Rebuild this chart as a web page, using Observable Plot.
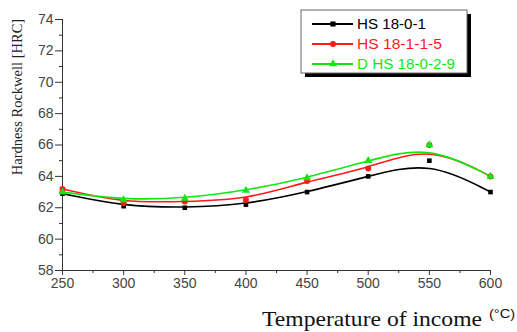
<!DOCTYPE html>
<html>
<head>
<meta charset="utf-8">
<script src="https://cdn.jsdelivr.net/npm/d3@7"></script>
<script src="https://cdn.jsdelivr.net/npm/@observablehq/plot@0.6"></script>
<style>
  html, body { margin: 0; padding: 0; background: #fff; }
  #chart svg { display: block; }
</style>
</head>
<body>
<div id="chart"></div>
<script>
const temps = [250, 300, 350, 400, 450, 500, 550, 600];
const hs1801 = [62.9, 62.1, 62.0, 62.2, 63.0, 64.0, 65.0, 63.0];
const hs18115 = [63.2, 62.3, 62.4, 62.5, 63.7, 64.5, 66.0, 64.0];
const dhs18029 = [63.0, 62.5, 62.6, 63.1, 63.9, 65.0, 66.0, 64.0];
const seriesNames = ["HS 18-0-1", "HS 18-1-1-5", "D HS 18-0-2-9"];
const seriesColors = ["#000000", "#ff1a1a", "#14e614"];
const seriesSymbols = ["square", "circle", "triangle"];
const yTicks = [58, 60, 62, 64, 66, 68, 70, 72, 74];
const yMinor = [59, 61, 63, 65, 67, 69, 71, 73];
const xMinor = [275, 325, 375, 425, 475, 525, 575];

const allSeries = [hs1801, hs18115, dhs18029];
const rows = [];
allSeries.forEach((vals, s) => vals.forEach((v, i) => rows.push({t: temps[i], h: v, s})));

const marks = [];
marks.push(Plot.axisY({ticks: yTicks, tickSize: 7, tickPadding: 2, stroke: "#333", fill: "#444", fontSize: 14, label: null}));
marks.push(Plot.axisY({ticks: yMinor, tickSize: 3, text: null, stroke: "#333", label: null}));
marks.push(Plot.axisX({ticks: temps, tickSize: 5, tickPadding: 3, stroke: "#333", fill: "#444", fontSize: 14, label: null}));
marks.push(Plot.axisX({ticks: xMinor, tickSize: 3, text: null, stroke: "#333", label: null}));
marks.push(Plot.ruleX([250], {stroke: "#333"}));
marks.push(Plot.ruleY([58], {stroke: "#333"}));
allSeries.forEach((vals, s) => {
  const d = rows.filter(r => r.s === s);
  marks.push(Plot.line(d, {x: "t", y: "h", curve: "basis", stroke: seriesColors[s], strokeWidth: 1.6}));
});
allSeries.forEach((vals, s) => {
  const d = rows.filter(r => r.s === s);
  marks.push(Plot.dot(d, {x: "t", y: "h", symbol: seriesSymbols[s], r: s === 0 ? 2.6 : 3, fill: seriesColors[s], stroke: "none"}));
});

const svg = Plot.plot({
  width: 517,
  height: 332,
  marginLeft: 62,
  marginRight: 27,
  marginTop: 19,
  marginBottom: 62,
  x: {domain: [250, 600], axis: null},
  y: {domain: [58, 74], axis: null},
  style: {fontFamily: "'Liberation Sans', Arial, sans-serif", fontSize: "14px", background: "#fff", overflow: "visible"},
  marks
});
document.getElementById("chart").appendChild(svg);

const g = d3.select(svg).append("g");
// Y label
g.append("text")
  .attr("transform", "translate(22,97) rotate(-90)")
  .attr("text-anchor", "middle")
  .attr("font-family", "'Liberation Serif', 'Times New Roman', serif")
  .attr("font-size", 14.5)
  .attr("fill", "#222")
  .text("Hardness Rockwell [HRC]");
// X label
g.append("text")
  .attr("x", 262).attr("y", 326)
  .attr("text-anchor", "start")
  .attr("font-family", "'Liberation Serif', 'Times New Roman', serif")
  .attr("font-size", 22)
  .attr("textLength", 220)
  .attr("lengthAdjust", "spacingAndGlyphs")
  .attr("fill", "#111")
  .text("Temperature of income");
g.append("text")
  .attr("x", 489).attr("y", 318)
  .attr("text-anchor", "start")
  .attr("font-family", "'Liberation Sans', Arial, sans-serif")
  .attr("font-size", 12)
  .attr("textLength", 26)
  .attr("lengthAdjust", "spacingAndGlyphs")
  .attr("fill", "#111")
  .text("(°C)");

// Legend
const lg = g.append("g");
lg.append("rect").attr("x", 305).attr("y", 14).attr("width", 166).attr("height", 63).attr("fill", "#000");
lg.append("rect").attr("x", 301).attr("y", 10).attr("width", 166).attr("height", 63).attr("fill", "#fff").attr("stroke", "#666").attr("stroke-width", 1);
const sym = {square: d3.symbolSquare, circle: d3.symbolCircle, triangle: d3.symbolTriangle};
const legendWidths = [69, 85, 98];
seriesNames.forEach((name, i) => {
  const y = 24 + i * 20;
  lg.append("line").attr("x1", 312).attr("x2", 353).attr("y1", y).attr("y2", y)
    .attr("stroke", seriesColors[i]).attr("stroke-width", 1.8);
  lg.append("path").attr("transform", `translate(333,${y})`)
    .attr("d", d3.symbol(sym[seriesSymbols[i]], i === 0 ? 26 : 28)())
    .attr("fill", seriesColors[i]);
  lg.append("text").attr("x", 357).attr("y", y + 5)
    .attr("text-anchor", "start")
    .attr("font-family", "'Liberation Sans', Arial, sans-serif")
    .attr("font-size", 14)
    .attr("textLength", legendWidths[i])
    .attr("lengthAdjust", "spacingAndGlyphs")
    .attr("fill", seriesColors[i])
    .text(name);
});
</script>
</body>
</html>
